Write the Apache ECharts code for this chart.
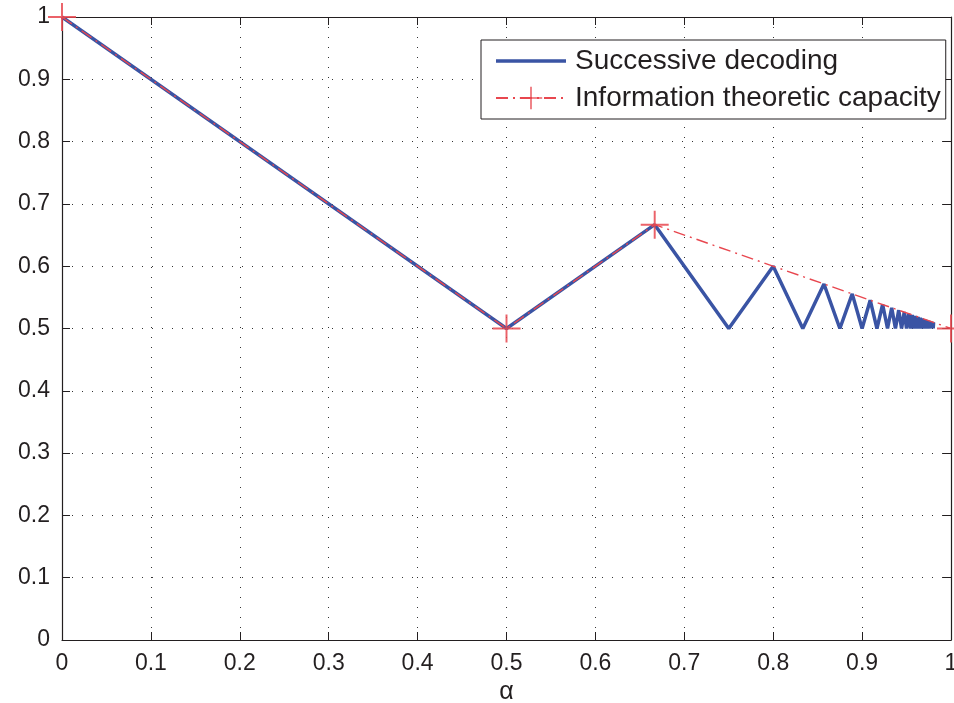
<!DOCTYPE html>
<html>
<head>
<meta charset="utf-8">
<script src="https://cdn.jsdelivr.net/npm/echarts@6/dist/echarts.min.js"></script>
<style>
  html, body { margin: 0; padding: 0; background: #fff; }
  #chart { width: 954px; height: 703px; }
</style>
</head>
<body>
<div id="chart"></div>
<script>
// successive decoding: zigzag between the capacity bound and 0.5
let successiveAlpha = [
  0, 0.5, 0.6667, 0.75, 0.8, 0.8333, 0.8571, 0.875, 0.8889, 0.9, 0.9091, 0.9167,
  0.9231, 0.9286, 0.9333, 0.9375, 0.9412, 0.9444, 0.9474, 0.95, 0.9524, 0.9545,
  0.9565, 0.9583, 0.96, 0.9615, 0.963, 0.9643, 0.9655, 0.9667, 0.9677, 0.9688,
  0.9697, 0.9706, 0.9714, 0.9722, 0.973, 0.9737, 0.9744, 0.975, 0.9756, 0.9762,
  0.9767, 0.9773, 0.9778, 0.9783, 0.9787, 0.9792, 0.9796, 0.98, 0.9804,
]
let successiveRate = [
  1, 0.5, 0.6667, 0.5, 0.6, 0.5, 0.5714, 0.5, 0.5556, 0.5, 0.5455, 0.5,
  0.5385, 0.5, 0.5333, 0.5, 0.5294, 0.5, 0.5263, 0.5, 0.5238, 0.5,
  0.5217, 0.5, 0.52, 0.5, 0.5185, 0.5, 0.5172, 0.5, 0.5161, 0.5,
  0.5152, 0.5, 0.5143, 0.5, 0.5135, 0.5, 0.5128, 0.5, 0.5122, 0.5,
  0.5116, 0.5, 0.5111, 0.5, 0.5106, 0.5, 0.5102, 0.5, 0.5098,
]

// information theoretic capacity corner points
let capacityAlpha = [0, 0.5, 0.6667, 1]
let capacityRate = [1, 0.5, 0.6667, 0.5]

let seriesNames = ['Successive decoding', 'Information theoretic capacity']

let textColor = '#231f20'
let blue = '#3a54a4'
let red = '#e8474f'
let plusSymbol = 'path://M-0.07,-1H0.07V1H-0.07Z M-1,-0.07H1V0.07H-1Z'
// plain line for the legend, tiny corner specks keep the box 70x28
let lineIcon = 'path://M0,0L0.01,0L0.01,0.01Z M0,12.3H70V15.7H0Z M69.99,27.99L70,27.99L70,28Z'

function zip(xs, ys) {
  return xs.map((x, i) => [x, ys[i]])
}

function valueAxis(position, showLabels, extra) {
  return Object.assign({
    type: 'value',
    position: position,
    min: 0,
    max: 1,
    interval: 0.1,
    axisLine: { show: true, onZero: false, lineStyle: { color: '#231f20', width: 1.2 } },
    axisTick: { show: true, inside: true, length: 8, lineStyle: { color: '#231f20' } },
    axisLabel: { show: showLabels },
    splitLine: { show: false },
  }, extra)
}

let gridLines = {
  show: true,
  lineStyle: { color: '#333', type: [1, 9], width: 1 }
}

let tickLabels = { show: true, color: textColor, fontFamily: 'Liberation Sans', fontSize: 23, margin: 12 }

let option = {
  backgroundColor: '#fff',
  animation: false,
  grid: { left: 62, right: 3, top: 17, bottom: 63, containLabel: false, outerBoundsMode: 'none' },
  legend: {
    orient: 'vertical',
    left: 481,
    top: 40,
    padding: [7, 5, 7, 14],
    itemWidth: 70,
    itemHeight: 28,
    itemGap: 9,
    borderColor: '#231f20',
    borderWidth: 1,
    backgroundColor: '#fff',
    textStyle: { color: textColor, fontFamily: 'Liberation Sans', fontSize: 28, padding: [0, 0, 0, 4] },
    data: [
      { name: seriesNames[0], icon: lineIcon },
      { name: seriesNames[1] },
    ],
  },
  xAxis: [
    valueAxis('bottom', true, {
      name: 'α',
      nameLocation: 'middle',
      nameGap: 38,
      nameTextStyle: { color: textColor, fontFamily: 'Liberation Sans', fontSize: 25 },
      axisLabel: tickLabels,
      splitLine: gridLines,
    }),
    valueAxis('top', false),
  ],
  yAxis: [
    valueAxis('left', true, {
      axisLabel: tickLabels,
      splitLine: gridLines,
    }),
    valueAxis('right', false),
  ],
  series: [
    {
      name: seriesNames[0],
      type: 'line',
      xAxisIndex: 0,
      yAxisIndex: 0,
      data: zip(successiveAlpha, successiveRate),
      showSymbol: false,
      symbol: 'none',
      color: blue,
      lineStyle: { color: blue, width: 3.5 },
    },
    {
      name: seriesNames[1],
      type: 'line',
      xAxisIndex: 0,
      yAxisIndex: 0,
      data: zip(capacityAlpha, capacityRate),
      symbol: plusSymbol,
      symbolSize: 28,
      color: red,
      itemStyle: { color: red, opacity: 0.85 },
      lineStyle: { color: red, width: 1.4, type: [12, 5, 2, 5] },
      clip: false,
      z: 3,
    },
  ],
}

let chart = echarts.init(document.getElementById('chart'), null, { renderer: 'canvas' })
chart.setOption(option)
</script>
</body>
</html>
